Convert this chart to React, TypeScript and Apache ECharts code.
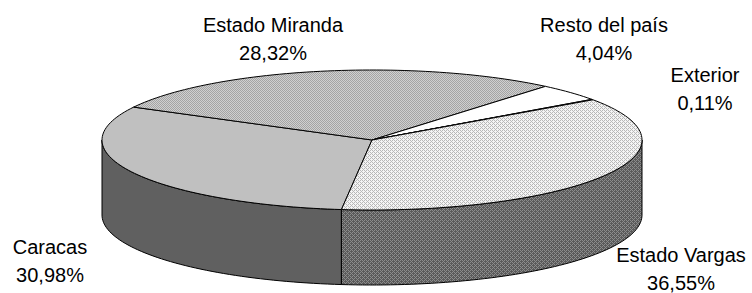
import React, { useEffect, useRef } from "react";
import * as echarts from "echarts";

const categories = ["Caracas", "Estado Miranda", "Resto del país", "Exterior", "Estado Vargas"];
const values = [30.98, 28.32, 4.04, 0.11, 36.55];
const valueLabels = ["30,98%", "28,32%", "4,04%", "0,11%", "36,55%"];

// layout (not data): centre of first label line
const labelPos: [number, number][] = [
  [50, 247],
  [273, 25],
  [604, 25],
  [705, 75],
  [681, 255],
];
const LINE_H = 28;

function makePattern(bg: string, fg: string, cells: number[][]): string {
  const n = cells.length;
  const c = document.createElement("canvas");
  c.width = n;
  c.height = n;
  const ctx = c.getContext("2d")!;
  ctx.fillStyle = bg;
  ctx.fillRect(0, 0, n, n);
  ctx.fillStyle = fg;
  for (let y = 0; y < n; y++)
    for (let x = 0; x < n; x++) if (cells[y][x]) ctx.fillRect(x, y, 1, 1);
  return c.toDataURL();
}

export default function App() {
  const ref = useRef<HTMLDivElement>(null);
  useEffect(() => {
    if (!ref.current) return;
    const chart = echarts.init(ref.current, undefined, { renderer: "svg" });

    const checker = [
      [1, 0, 1, 0],
      [0, 1, 0, 1],
      [1, 0, 1, 0],
      [0, 1, 0, 1],
    ];
    const dots = [
      [1, 0, 1, 0],
      [0, 0, 0, 1],
      [1, 0, 1, 0],
      [0, 1, 0, 0],
    ];
    const mirandaPat = { image: makePattern("#d0d0d0", "#a4a4a4", checker), repeat: "repeat" };
    const vargasTopPat = { image: makePattern("#f4f4f4", "#b8b8b8", dots), repeat: "repeat" };
    const vargasSidePat = { image: makePattern("#5a5a5a", "#8c8c8c", dots), repeat: "repeat" };

    const topFill: any[] = ["#c0c0c0", mirandaPat, "#ffffff", "#ffffff", vargasTopPat];
    const sideFill: any[] = ["#606060", "#606060", "#a0a0a0", "#a0a0a0", vargasSidePat];

    const cx = 372, cy = 140, rx = 270, ry = 70, depth = 75;
    const t0 = 96.5;
    const total = values.reduce((a, b) => a + b, 0);
    const pt = (deg: number, dy = 0): number[] => {
      const r = (deg * Math.PI) / 180;
      return [cx + rx * Math.cos(r), cy + ry * Math.sin(r) + dy];
    };
    const arc = (a: number, b: number, dy = 0): number[][] => {
      const n = Math.max(2, Math.ceil(Math.abs(b - a) / 1.5));
      const out: number[][] = [];
      for (let i = 0; i <= n; i++) out.push(pt(a + ((b - a) * i) / n, dy));
      return out;
    };

    const renderItem = (params: any, api: any) => {
      const idx = params.dataIndex;
      let before = 0;
      for (let i = 0; i < idx; i++) before += values[i];
      const v = api.value(0);
      const a = t0 + (before / total) * 360;
      const b = a + (v / total) * 360;
      const children: any[] = [];
      for (const k of [0, 360]) {
        const s = Math.max(a, k);
        const e = Math.min(b, k + 180);
        if (e > s) {
          const top = arc(s, e);
          const bot = arc(e, s, depth);
          children.push({
            type: "polygon",
            z2: 1,
            shape: { points: top.concat(bot) },
            style: { fill: sideFill[idx], stroke: "#000", lineWidth: 1 },
          });
        }
      }
      children.push({
        type: "polygon",
        z2: 10,
        shape: { points: [[cx, cy]].concat(arc(a, b)) },
        style: { fill: topFill[idx], stroke: "#000", lineWidth: 1, lineJoin: "round" },
      });
      const [lx, ly] = labelPos[idx];
      children.push({
        type: "text",
        z2: 20,
        x: lx,
        y: ly + LINE_H / 2,
        style: {
          text: categories[idx] + "\n" + valueLabels[idx],
          fill: "#000",
          font: "20px 'Liberation Sans', Arial, sans-serif",
          align: "center",
          verticalAlign: "middle",
          lineHeight: LINE_H,
        },
      });
      return { type: "group", children };
    };

    chart.setOption({
      animation: false,
      backgroundColor: "#ffffff",
      series: [
        {
          type: "custom",
          coordinateSystem: "none",
          renderItem,
          data: values.map((v) => [v]),
        },
      ],
    });
    return () => chart.dispose();
  }, []);
  return (
    <div
      ref={ref}
      style={{ position: "fixed", left: 0, top: 0, width: 752, height: 293 }}
    />
  );
}
